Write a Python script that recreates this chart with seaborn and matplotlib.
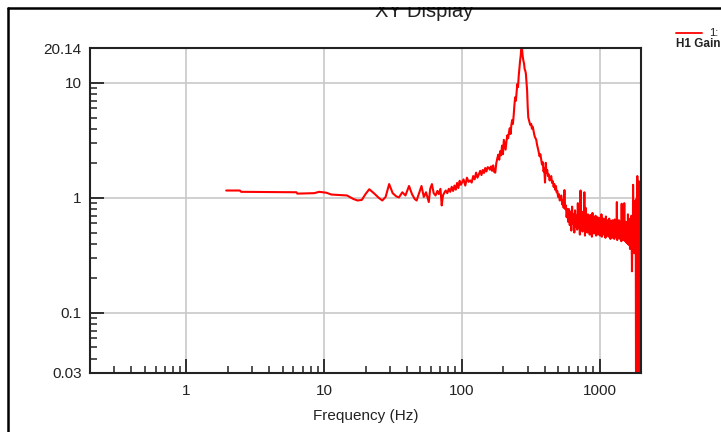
import matplotlib
matplotlib.use("Agg")
import matplotlib.pyplot as plt
from matplotlib.patches import Rectangle
from matplotlib.lines import Line2D
from matplotlib.ticker import FixedLocator, FixedFormatter, LogLocator, NullFormatter
import numpy as np
import pandas as pd
import seaborn as sns

# ---- data (H1 gain vs frequency) ----
freq_lo = [1.95, 2.45, 2.5, 6.3, 6.4, 8.5, 9.2, 10.4, 11.3, 14.7,
           16.3, 17.5, 18.8, 20.0, 21.3, 23.0, 25.0, 26.5, 28.0, 29.7,
           31.5, 33.5, 35.0, 37.0, 39.0, 41.4, 43.5, 45.5, 47.0, 49.0,
           51.0, 53.0, 55.0, 57.6, 59.0, 60.7, 62.5, 64.5, 66.5, 68.0,
           70.0, 71.5, 73.0, 75.0, 76.5, 78.5, 80.5, 82.5, 84.5, 86.5,
           88.5, 90.5, 92.5, 94.5, 96.5, 98.5]
gain_lo = [1.16, 1.16, 1.13, 1.12, 1.09, 1.10, 1.13, 1.11, 1.07, 1.05,
           0.98, 0.95, 0.96, 1.08, 1.19, 1.10, 1.00, 0.95, 1.02, 1.32,
           1.10, 1.03, 1.01, 1.12, 1.05, 1.27, 1.08, 0.98, 0.95, 1.10,
           1.27, 1.02, 1.12, 0.92, 1.20, 1.32, 1.10, 1.05, 1.15, 1.08,
           1.20, 0.86, 1.05, 1.12, 1.16, 1.10, 1.20, 1.13, 1.25, 1.15,
           1.28, 1.18, 1.35, 1.22, 1.41, 1.30]

freq_mid = [100, 103, 106, 109, 112, 115, 118, 121, 124, 127,
            130, 133, 136, 139, 142, 145, 148, 151, 154, 157,
            160, 163, 166, 169, 172, 175, 178, 181, 184, 187,
            190, 193, 196, 199, 202, 205, 208, 211, 214, 217,
            220, 223, 226, 229, 232, 235, 238, 241, 244, 247,
            250, 253, 256, 259, 262, 265, 268, 271, 274, 277,
            280, 283, 286, 289, 292, 295, 298, 301, 304, 307,
            311, 315, 319, 323, 327, 331, 335, 339, 343, 347,
            352, 357, 362, 367, 372, 377, 382, 387, 392, 397,
            402, 407, 412, 417, 422, 428, 434, 440, 446, 452,
            458, 464, 470, 476, 482, 488, 494, 500, 507, 514,
            521, 528, 535, 542, 549, 556, 563, 570, 577, 584,
            591, 596]
gain_mid = [1.35, 1.45, 1.28, 1.50, 1.38, 1.42, 1.36, 1.55, 1.45, 1.66,
            1.50, 1.60, 1.72, 1.58, 1.75, 1.65, 1.82, 1.70, 1.85, 1.83,
            1.76, 1.88, 1.72, 1.92, 1.68, 1.66, 2.00, 2.20, 2.38, 2.15,
            2.55, 2.35, 2.85, 2.40, 3.20, 2.90, 2.63, 3.10, 3.50, 3.30,
            3.70, 4.04, 3.60, 4.30, 4.76, 4.40, 5.20, 6.40, 7.50, 7.00,
            8.40, 9.80, 9.20, 11.5, 13.5, 15.6, 17.5, 21.0, 19.5, 17.0,
            15.6, 14.8, 13.2, 12.8, 12.0, 10.2, 8.60, 6.20, 5.00, 4.76,
            4.50, 4.30, 4.40, 4.00, 4.17, 3.90, 3.60, 3.40, 3.30, 3.21,
            2.90, 2.70, 2.50, 2.30, 2.40, 2.16, 1.95, 2.05, 1.70, 1.80,
            1.36, 2.02, 1.65, 1.75, 1.55, 1.60, 1.42, 1.50, 1.55, 1.35,
            1.40, 1.25, 1.32, 1.18, 1.27, 1.12, 1.15, 1.02, 1.08, 0.95,
            1.00, 1.05, 0.88, 0.95, 0.82, 1.17, 0.80, 0.86, 0.68, 0.80,
            0.62, 0.75]

freq_hi = [600, 608, 616, 624, 632, 640, 648, 656, 664, 672,
           680, 688, 696, 704, 712, 720, 728, 736, 744, 752,
           760, 768, 776, 784, 792, 800, 808, 816, 824, 832,
           840, 848, 856, 864, 872, 880, 888, 896, 904, 912,
           920, 928, 936, 944, 952, 960, 968, 976, 984, 992,
           1000, 1008, 1016, 1024, 1032, 1040, 1048, 1056, 1064, 1072,
           1080, 1088, 1096, 1104, 1112, 1120, 1128, 1136, 1144, 1152,
           1160, 1168, 1176, 1184, 1192, 1200, 1208, 1216, 1224, 1232,
           1240, 1248, 1256, 1264, 1272, 1280, 1288, 1296, 1304, 1312,
           1320, 1328, 1336, 1344, 1352, 1360, 1368, 1376, 1384, 1392,
           1400, 1408, 1416, 1424, 1432, 1440, 1448, 1456, 1464, 1472,
           1480, 1488, 1496, 1504, 1512, 1520, 1528, 1536, 1544, 1552,
           1560, 1568, 1576, 1584, 1592, 1600, 1608, 1616, 1624, 1632,
           1640, 1648, 1656, 1664, 1672, 1680, 1688, 1696, 1704, 1712,
           1720, 1728, 1736, 1744, 1752, 1760, 1768, 1776, 1784, 1792]
gain_hi = [0.80, 0.58, 0.76, 0.52, 0.84, 0.60, 0.72, 0.50, 0.78, 0.56,
           0.70, 0.53, 0.90, 0.55, 0.74, 0.48, 1.16, 0.56, 0.76, 0.51,
           0.68, 0.54, 1.12, 0.47, 0.82, 0.53, 0.69, 0.50, 0.72, 0.55,
           0.66, 0.48, 0.71, 0.53, 0.64, 0.46, 0.74, 0.52, 0.68, 0.49,
           0.65, 0.51, 0.70, 0.47, 0.63, 0.53, 0.68, 0.48, 0.64, 0.50,
           0.67, 0.47, 0.62, 0.52, 0.72, 0.46, 0.63, 0.50, 0.66, 0.48,
           0.61, 0.51, 0.65, 0.45, 0.69, 0.49, 0.62, 0.47, 0.64, 0.50,
           0.60, 0.46, 0.66, 0.48, 0.62, 0.44, 0.63, 0.50, 0.59, 0.47,
           0.64, 0.45, 0.60, 0.49, 0.62, 0.44, 0.65, 0.48, 0.59, 0.46,
           0.62, 0.47, 0.92, 0.43, 0.63, 0.48, 0.60, 0.45, 0.64, 0.47,
           0.59, 0.44, 0.62, 0.48, 0.57, 0.42, 0.89, 0.46, 0.61, 0.45,
           0.60, 0.43, 0.64, 0.47, 0.90, 0.44, 0.59, 0.42, 0.62, 0.46,
           0.58, 0.41, 0.61, 0.45, 0.57, 0.40, 0.72, 0.43, 0.60, 0.39,
           0.64, 0.42, 0.59, 0.36, 0.66, 0.38, 0.62, 0.40, 0.70, 0.38,
           0.23, 0.43, 0.68, 0.34, 1.30, 0.42, 0.82, 0.48, 0.74, 0.33]

freq_end = [1800, 1808, 1816, 1824, 1832, 1840, 1848, 1856, 1864, 1872,
            1880, 1888, 1896, 1904, 1912, 1920, 1928, 1936, 1944, 1952,
            1960, 1968, 1976, 1984, 1992, 2000]
gain_end = [0.75, 0.42, 0.95, 0.38, 0.70, 0.025, 0.80, 0.45, 1.00, 0.30,
            1.55, 0.50, 0.98, 0.020, 0.85, 0.40, 1.40, 0.60, 0.90, 0.015,
            0.75, 0.50, 0.98, 0.45, 0.80, 0.60]

x_major = [1, 10, 100, 1000]
x_labels = ["1", "10", "100", "1000"]
y_major = [0.03, 0.1, 1, 10, 20.14]
y_labels = ["0.03", "0.1", "1", "10", "20.14"]

df = pd.DataFrame({
    "freq": freq_lo + freq_mid + freq_hi + freq_end,
    "gain": gain_lo + gain_mid + gain_hi + gain_end,
})

sns.set_style("white")
plt.rcParams["font.family"] = ["Liberation Sans", "DejaVu Sans"]
ink = "#222222"

fig = plt.figure(figsize=(7.21, 4.32), dpi=100)
ax = fig.add_axes([90 / 721, 1 - 373 / 432, 551 / 721, 325 / 432])

sns.lineplot(data=df, x="freq", y="gain", ax=ax, color="#ff0000",
             linewidth=1.5, estimator=None, sort=False, legend=False)
ax.set_xscale("log")
ax.set_yscale("log")
ax.set_xlim(0.2, 2000)
ax.set_ylim(0.03, 20.14)

ax.xaxis.set_major_locator(FixedLocator(x_major))
ax.xaxis.set_major_formatter(FixedFormatter(x_labels))
ax.xaxis.set_minor_locator(LogLocator(base=10, subs=np.arange(2, 10) * 1.0, numticks=30))
ax.xaxis.set_minor_formatter(NullFormatter())
ax.yaxis.set_major_locator(FixedLocator(y_major))
ax.yaxis.set_major_formatter(FixedFormatter(y_labels))
ax.yaxis.set_minor_locator(LogLocator(base=10, subs=np.arange(2, 10) * 1.0, numticks=30))
ax.yaxis.set_minor_formatter(NullFormatter())

ax.grid(True, which="major", color="#c8c8c8", linewidth=1.2)
ax.set_axisbelow(True)
ax.tick_params(which="both", bottom=True, left=True, top=False, right=False)
ax.tick_params(which="major", direction="in", length=10, width=1.3,
               labelsize=11, color=ink, labelcolor=ink)
ax.tick_params(axis="x", which="major", pad=8)
ax.tick_params(axis="y", which="major", pad=6)
ax.tick_params(which="minor", direction="in", length=5, width=1.1, color=ink)
for t in (ax.yaxis.get_major_ticks()[0], ax.yaxis.get_major_ticks()[-1]):
    t.tick1line.set_visible(False)
    t.gridline.set_visible(False)

for s in ax.spines.values():
    s.set_visible(True)
    s.set_color(ink)
    s.set_linewidth(1.5)

ax.set_xlabel("Frequency (Hz)", fontsize=11, labelpad=8, color=ink)
ax.set_ylabel("")

# title, clipped by the window frame
fig.text(424 / 721, 1 - 17 / 432, "XY Display", ha="center", va="baseline",
         fontsize=14.5, color=ink, zorder=1)
fig.add_artist(Rectangle((0, 1 - 7 / 432), 1, 7 / 432, transform=fig.transFigure,
                         facecolor="white", edgecolor="none", zorder=5))
fig.add_artist(Line2D([8 / 721, 1], [1 - 7.5 / 432] * 2, transform=fig.transFigure,
                      color="black", linewidth=1.8, zorder=6))
fig.add_artist(Line2D([8 / 721] * 2, [0, 1 - 7.5 / 432], transform=fig.transFigure,
                      color="black", linewidth=1.8, zorder=6))

# legend stub at the right
fig.add_artist(Line2D([676 / 721, 702 / 721], [1 - 33 / 432] * 2, transform=fig.transFigure,
                      color="#ff0000", linewidth=1.3))
fig.text(709 / 721, 1 - 33 / 432, "1:", fontsize=8, va="center", color=ink)
fig.text(676 / 721, 1 - 44 / 432, "H1 Gain", fontsize=8.5, fontweight="bold",
         va="center", color=ink)

fig.savefig("out.png", dpi=100)
